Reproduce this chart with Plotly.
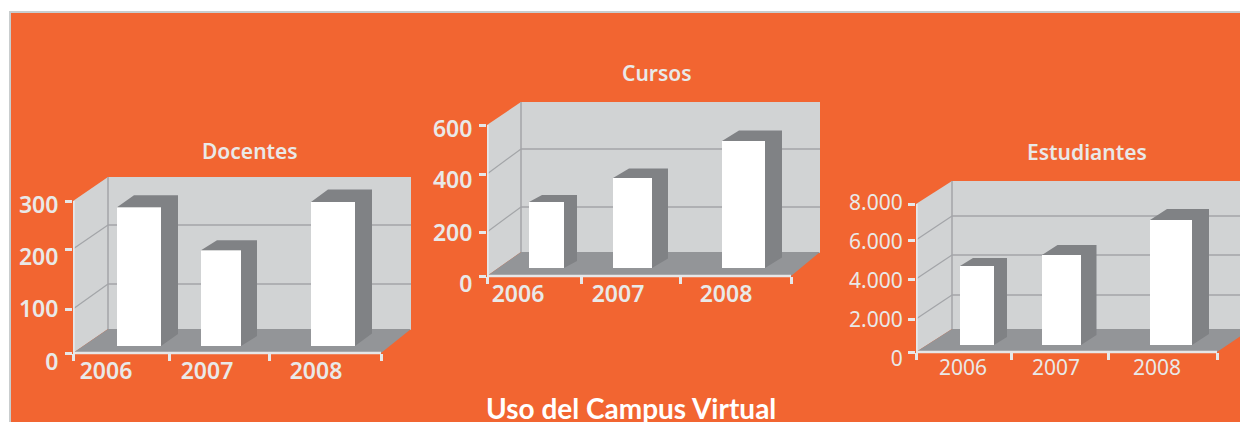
import plotly.graph_objects as go

# ---------- data ----------
YEARS = ["2006", "2007", "2008"]

DOCENTES = [274, 189, 284]
CURSOS = [262, 358, 505]
ESTUDIANTES = [4270, 4865, 6757]

DOCENTES_TICKS = ["0", "100", "200", "300"]
CURSOS_TICKS = ["0", "200", "400", "600"]
ESTUDIANTES_TICKS = ["0", "2.000", "4.000", "6.000", "8.000"]

MAIN_TITLE = "Uso del Campus Virtual"

# ---------- colours ----------
ORANGE = "#f26531"
BORDER = "#c9cdce"
WALL = "#d1d3d4"
FLOOR = "#939598"
SHADE = "#808285"
GRID = "#a3a5a8"
AXIS = "#e6e7e8"
TEXT = "#e9e9e8"

W, H = 1240, 422

# ---------- geometry of each panel (page pixels) ----------
PANELS = [
    dict(title="Docentes", values=DOCENTES, labels=DOCENTES_TICKS, axis_max=300,
         title_xy=(250, 151), weight=600, size=23, title_size=21,
         x0=73, x_end=381, y0=353, y_top=201, back_x=108, back_top=177, back_bot=329, back_right=411,
         x_ticks=[73, 169, 269, 381], x_label_at=[106, 207, 316],
         y_ticks=[353, 309, 249, 201], y_label_at=[362, 309, 257, 205],
         grid=[225, 284], left_ticklen=9, right_clip=411,
         bar_l=[117, 201, 311], bar_r=[161, 241, 355], bar_bot=346,
         depth_x=[17, 16, 17], depth_y=[12, 10, 12.5]),
    dict(title="Cursos", values=CURSOS, labels=CURSOS_TICKS, axis_max=600,
         title_xy=(657, 73), weight=600, size=23, title_size=21,
         x0=487, x_end=791, y0=276, y_top=125, back_x=521, back_top=102, back_bot=252, back_right=820,
         x_ticks=[487, 581, 680, 791], x_label_at=[518, 618, 726],
         y_ticks=[276, 232, 174, 125], y_label_at=[284, 233, 180, 129],
         grid=[149, 207], left_ticklen=9, right_clip=820,
         bar_l=[529, 613, 722], bar_r=[564, 652, 765], bar_bot=268,
         depth_x=[13, 16, 17], depth_y=[7, 9.5, 10.5]),
    dict(title="Estudiantes", values=ESTUDIANTES, labels=ESTUDIANTES_TICKS, axis_max=8000,
         title_xy=(1087, 152), weight=400, size=21, title_size=21,
         x0=916, x_end=1217, y0=352, y_top=204, back_x=952, back_top=181, back_bot=329, back_right=1251,
         x_ticks=[916, 1011, 1108, 1217], x_label_at=[963, 1056, 1157],
         y_ticks=[352, 319, 279, 240, 204], y_label_at=[359, 320, 281, 242, 203],
         grid=[216, 255, 295], left_ticklen=8, right_clip=1240,
         bar_l=[960, 1042, 1150], bar_r=[994, 1081, 1192], bar_bot=345,
         depth_x=[13, 15.5, 17], depth_y=[8, 10, 11]),
]

fig = go.Figure()
shapes = [
    dict(type="rect", xref="paper", yref="paper", layer="below",
         x0=10 / W, x1=1.01, y0=-0.01, y1=1 - 12 / H,
         fillcolor=ORANGE, line=dict(color=BORDER, width=2)),
]
annotations = []
layout_axes = {}


def poly(points):
    return "M " + " L ".join(f"{a} {b}" for a, b in points) + " Z"


for i, p in enumerate(PANELS, start=1):
    xn = f"x{i}" if i > 1 else "x"
    yn = f"y{i}" if i > 1 else "y"
    scale = p["axis_max"] / (p["y0"] - p["y_top"])     # value units per pixel

    def val(px, y0=p["y0"], s=scale):
        return (y0 - px) * s

    bottom_px = p["y0"] + 20
    base = val(p["bar_bot"])

    layout_axes[f"xaxis{i}" if i > 1 else "xaxis"] = dict(
        domain=[p["x0"] / W, p["right_clip"] / W],
        range=[p["x0"], p["right_clip"]],
        anchor="free", position=1 - p["y0"] / H,
        showgrid=False, zeroline=False, showline=False,
        tickmode="array", tickvals=p["x_label_at"], ticktext=YEARS,
        ticks="outside", ticklen=8, tickcolor="rgba(0,0,0,0)", ticklabelstandoff=-11,
        tickfont=dict(family="Noto Sans", size=p["size"], color=TEXT, weight=p["weight"]),
        minor=dict(tickmode="array", tickvals=p["x_ticks"], ticks="outside",
                   ticklen=7, tickwidth=2.5, tickcolor=AXIS, showgrid=False),
    )
    layout_axes[f"yaxis{i}" if i > 1 else "yaxis"] = dict(
        domain=[1 - bottom_px / H, 1 - p["back_top"] / H],
        range=[val(bottom_px), val(p["back_top"])],
        anchor=xn,
        showgrid=False, zeroline=False, showline=False,
        tickmode="array", tickvals=[val(t) for t in p["y_label_at"]], ticktext=p["labels"],
        ticks="outside", ticklen=p["left_ticklen"], tickcolor="rgba(0,0,0,0)",
        tickfont=dict(family="Noto Sans", size=p["size"], color=TEXT, weight=p["weight"]),
        minor=dict(tickmode="array", tickvals=[val(t) for t in p["y_ticks"]], ticks="outside",
                   ticklen=7, tickwidth=2.5, tickcolor=AXIS, showgrid=False),
    )

    def add_poly(points, fill):
        shapes.append(dict(type="path", xref=xn, yref=yn, layer="below",
                           path=poly([(a, val(b)) for a, b in points]),
                           fillcolor=fill, line=dict(width=0)))

    def add_line(a, b, c, d, color, width):
        shapes.append(dict(type="line", xref=xn, yref=yn, layer="below",
                           x0=a, y0=val(b), x1=c, y1=val(d),
                           line=dict(color=color, width=width)))

    # left wall, back wall (slightly under the floor), floor
    add_poly([(p["x0"], p["y0"]), (p["back_x"], p["back_bot"]),
              (p["back_x"], p["back_top"]), (p["x0"], p["y_top"])], WALL)
    add_poly([(p["back_x"], p["back_top"]), (p["back_right"], p["back_top"]),
              (p["back_right"], p["back_bot"] + 1), (p["back_x"], p["back_bot"] + 1)], WALL)
    add_poly([(p["x0"], p["y0"]), (p["back_x"], p["back_bot"]),
              (p["back_right"], p["back_bot"]), (p["x_end"], p["y0"])], FLOOR)

    # gridlines on the walls
    add_line(p["back_x"], p["back_top"], p["back_x"], p["back_bot"], GRID, 1.5)
    for g, t in zip(sorted(p["grid"], reverse=True), p["y_ticks"][1:]):
        add_line(p["back_x"], g, p["back_right"], g, GRID, 1.5)
        add_line(p["x0"], t, p["back_x"], g, GRID, 1.2)

    # front axes
    add_line(p["x0"], p["y0"], p["x_end"], p["y0"], AXIS, 2.5)
    add_line(p["x0"] + 0.5, p["y_top"], p["x0"] + 0.5, p["y0"], AXIS, 2.5)

    # shaded top and side of every bar, from its value
    xs, ys = [], []
    for v, l, r, ddx, ddy in zip(p["values"], p["bar_l"], p["bar_r"], p["depth_x"], p["depth_y"]):
        top = base + v
        up = ddy * scale
        xs += [l, l + ddx, r + ddx, r + ddx, r, r, l, None]
        ys += [top, top + up, top + up, base + up, base, top, top, None]
    fig.add_trace(go.Scatter(x=xs, y=ys, mode="lines", fill="toself", fillcolor=SHADE,
                             line=dict(width=0), hoverinfo="skip", showlegend=False,
                             xaxis=xn, yaxis=yn))

    # white front of every bar
    fig.add_trace(go.Bar(
        x=[(l + r) / 2 for l, r in zip(p["bar_l"], p["bar_r"])],
        width=[r - l for l, r in zip(p["bar_l"], p["bar_r"])],
        y=p["values"], base=base, marker=dict(color="white", line=dict(width=0)),
        showlegend=False, xaxis=xn, yaxis=yn,
    ))

    annotations.append(dict(
        text=p["title"], xref="paper", yref="paper", showarrow=False,
        x=p["title_xy"][0] / W, y=1 - p["title_xy"][1] / H, xanchor="center", yanchor="middle",
        font=dict(family="Noto Sans", size=p["title_size"], color=TEXT, weight=600),
    ))

annotations.append(dict(
    text=MAIN_TITLE, xref="paper", yref="paper", showarrow=False,
    x=631 / W, y=1 - 408 / H, xanchor="center", yanchor="middle",
    font=dict(family="Lato", size=28, color="white", weight=700),
))

fig.update_layout(
    width=W, height=H, margin=dict(l=0, r=0, t=0, b=0, autoexpand=False),
    paper_bgcolor="white", plot_bgcolor="rgba(0,0,0,0)",
    shapes=shapes, annotations=annotations, showlegend=False, barmode="overlay",
    **layout_axes,
)

fig.write_html("out.html", config=dict(displayModeBar=False),
               post_script="document.body.style.margin='0';document.body.style.overflow='hidden';")
